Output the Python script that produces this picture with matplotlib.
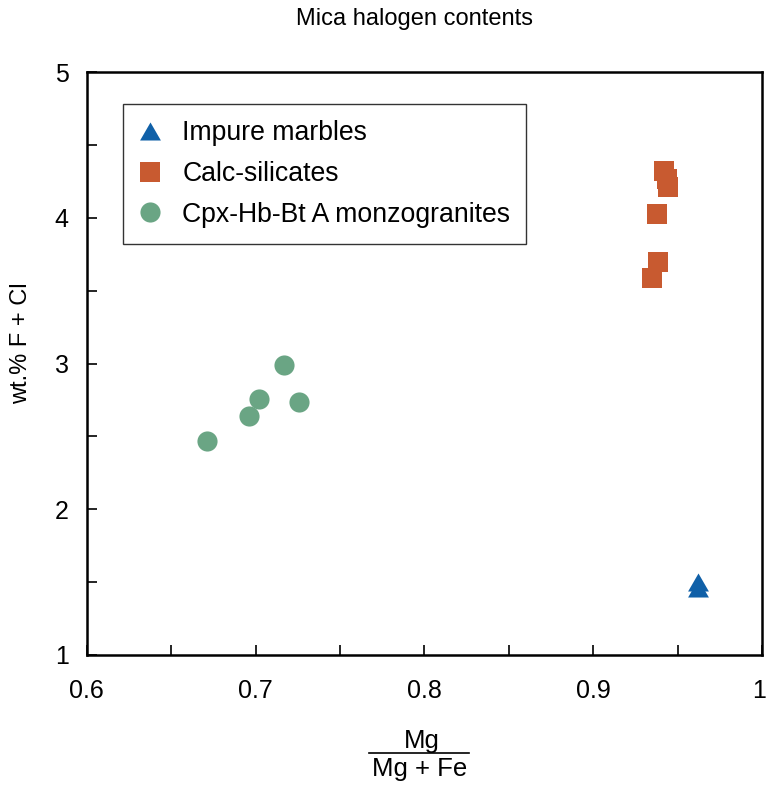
import matplotlib.pyplot as plt
from matplotlib.lines import Line2D
from matplotlib.transforms import ScaledTranslation

plt.rcParams['font.family'] = ['Liberation Sans', 'DejaVu Sans']

# Mg/(Mg+Fe) against wt.% F + Cl for each rock group
marble_x = [0.962, 0.962]
marble_y = [1.50, 1.46]

calc_x = [0.942, 0.9436, 0.9445, 0.9379, 0.9386, 0.9349]
calc_y = [4.32, 4.27, 4.21, 4.03, 3.70, 3.59]

granite_x = [0.717, 0.702, 0.726, 0.696, 0.6715]
granite_y = [2.99, 2.76, 2.74, 2.64, 2.47]

labels = ["Impure marbles", "Calc-silicates", "Cpx-Hb-Bt A monzogranites"]
colors = ["#1060a8", "#c85a30", "#6aa584"]

tri = [(-1, -0.866), (1, -0.866), (0, 0.866), (-1, -0.866)]

fig = plt.figure(figsize=(7.66, 7.9), dpi=100)
ax = fig.add_axes([86.7 / 766, 1 - 655 / 790, 675.3 / 766, 582.7 / 790])

ax.plot(marble_x, marble_y, marker=tri, markersize=15, linestyle=" ",
        color=colors[0], markeredgewidth=0, label=labels[0])
ax.plot(calc_x, calc_y, marker="s", markersize=14.5, linestyle=" ",
        color=colors[1], markeredgewidth=0, label=labels[1])
ax.plot(granite_x, granite_y, marker="o", markersize=14.5, linestyle=" ",
        color=colors[2], markeredgewidth=0, label=labels[2])

ax.set_xlim(0.6, 1.0)
ax.set_ylim(1, 5)
ax.set_xticks([0.6, 0.7, 0.8, 0.9, 1.0])
ax.set_xticklabels(["0.6", "0.7", "0.8", "0.9", "1"])
ax.set_xticks([0.65, 0.75, 0.85, 0.95], minor=True)
ax.set_yticks([1, 2, 3, 4, 5])
ax.set_yticks([1.5, 2.5, 3.5, 4.5], minor=True)
ax.tick_params(which="both", direction="in", length=7, width=1.2,
               top=False, right=False)
ax.tick_params(axis="x", which="major", labelsize=18, pad=17)
ax.tick_params(axis="y", which="major", labelsize=18, pad=13)
for s in ax.spines.values():
    s.set_linewidth(1.8)

# keep the last x label inside the figure
last = ax.get_xticklabels()[-1]
last.set_transform(last.get_transform() + ScaledTranslation(-2 / 72, 0, fig.dpi_scale_trans))

fig.text(414.5 / 766, 1 - 19 / 790, "Mica halogen contents", fontsize=17,
         ha="center", va="center")
fig.text(21 / 766, 1 - 343 / 790, "wt.% F + Cl", fontsize=17, rotation=90,
         ha="center", va="center")

# x axis label as a stacked fraction
fig.text(422 / 766, 1 - 741 / 790, "Mg", fontsize=18.5, ha="center", va="center")
fig.text(420 / 766, 1 - 769 / 790, "Mg + Fe", fontsize=18.5, ha="center", va="center")
fig.add_artist(Line2D([369 / 766, 469 / 766], [1 - 753 / 790, 1 - 753 / 790],
                      color="black", linewidth=1.2))

leg = ax.legend(loc="upper left", bbox_to_anchor=(0.0542, 0.945), borderaxespad=0,
                fontsize=19.2, frameon=True, fancybox=False, borderpad=0.6,
                labelspacing=0.55, handletextpad=0.79, handlelength=0.82,
                edgecolor="black")
leg.get_frame().set_linewidth(1.0)

plt.savefig("out.png", dpi=100)
